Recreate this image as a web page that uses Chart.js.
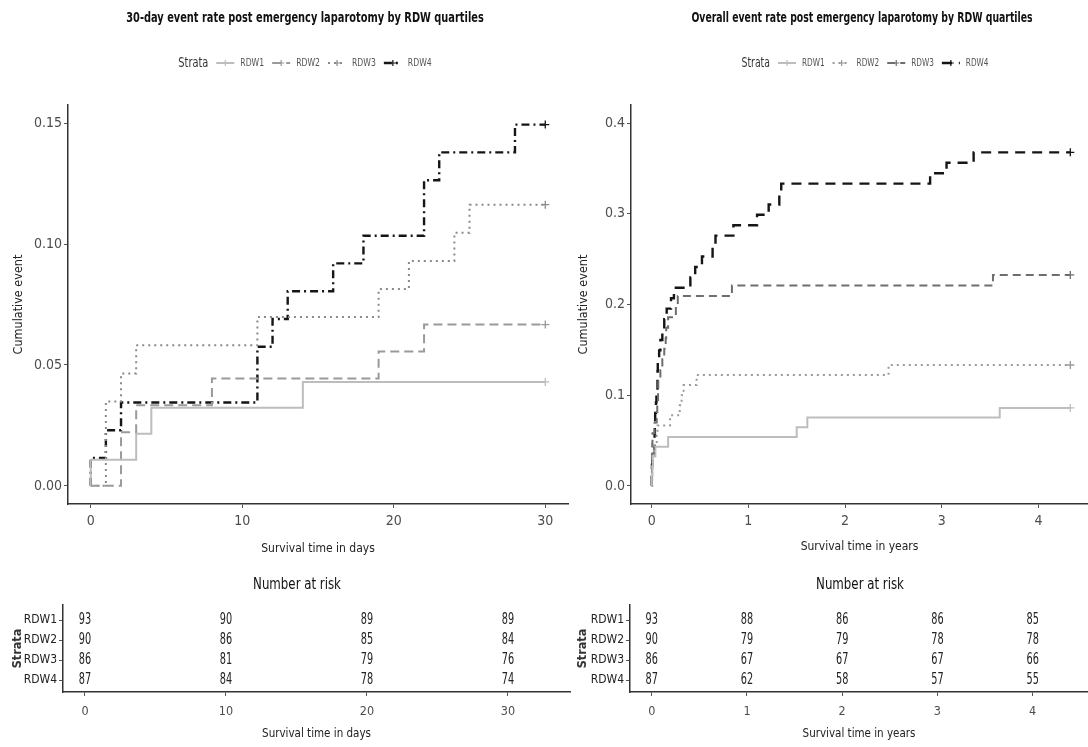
<!DOCTYPE html>
<html><head><meta charset="utf-8">
<script src="https://cdn.jsdelivr.net/npm/chart.js@4/dist/chart.umd.min.js"></script>
<style>
html,body{margin:0;padding:0;background:#fff;}
body{width:1088px;height:747px;overflow:hidden;position:relative;}
canvas{position:absolute;}
</style></head><body>
<canvas id="mainLeft" width="575" height="560" style="left:0px;top:0px"></canvas>
<canvas id="mainRight" width="540" height="560" style="left:548px;top:0px"></canvas>
<canvas id="riskLeft" width="575" height="187" style="left:0px;top:560px"></canvas>
<canvas id="riskRight" width="528" height="187" style="left:560px;top:560px"></canvas>
<script>
const FONT = "'Liberation Sans Narrow','Arial Narrow','DejaVu Sans Condensed','Liberation Sans',sans-serif";

// ---------- labels ----------
const strata = ['RDW1', 'RDW2', 'RDW3', 'RDW4'];
const leftTitle = '30-day event rate post emergency laparotomy by RDW quartiles';
const rightTitle = 'Overall event rate post emergency laparotomy by RDW quartiles';
const leftXTitle = 'Survival time in days';
const rightXTitle = 'Survival time in years';
const yTitle = 'Cumulative event';
const riskHeader = 'Number at risk';

// ---------- tick labels ----------
const leftXTicks = [0, 10, 20, 30];
const leftXTickLabels = ['0', '10', '20', '30'];
const leftYTicks = [0, 0.05, 0.10, 0.15];
const leftYTickLabels = ['0.00', '0.05', '0.10', '0.15'];
const rightXTicks = [0, 1, 2, 3, 4];
const rightXTickLabels = ['0', '1', '2', '3', '4'];
const rightYTicks = [0, 0.1, 0.2, 0.3, 0.4];
const rightYTickLabels = ['0.0', '0.1', '0.2', '0.3', '0.4'];

// ---------- 30-day cumulative event (time in days) ----------
const rdw1Days = [0, 0, 3, 4, 14, 30];
const rdw1Cum30 = [0, 0.0108, 0.0215, 0.0323, 0.0430, 0.0430];
const rdw2Days = [0, 2, 3, 8, 19, 22, 30];
const rdw2Cum30 = [0, 0.0222, 0.0333, 0.0444, 0.0556, 0.0667, 0.0667];
const rdw3Days = [0, 1, 2, 3, 11, 19, 21, 24, 25, 30];
const rdw3Cum30 = [0, 0.0349, 0.0465, 0.0581, 0.0698, 0.0814, 0.0930, 0.1047, 0.1163, 0.1163];
const rdw4Days = [0, 0, 1, 2, 11, 12, 13, 16, 18, 22, 23, 28, 30];
const rdw4Cum30 = [0, 0.0115, 0.0230, 0.0345, 0.0575, 0.0690, 0.0805, 0.0920, 0.1034, 0.1264, 0.1379, 0.1494, 0.1494];

// ---------- overall cumulative event (time in years) ----------
const rdw1Years = [0, 0, 0.008, 0.011, 0.038, 0.17, 1.5, 1.61, 3.6, 4.33];
const rdw1Cum = [0, 0.0108, 0.0215, 0.0323, 0.0430, 0.0538, 0.0645, 0.0753, 0.0860, 0.0860];
const rdw2Years = [0, 0.0055, 0.0082, 0.022, 0.052, 0.060, 0.19, 0.29, 0.31, 0.33, 0.465, 2.45, 4.33];
const rdw2Cum = [0, 0.0222, 0.0333, 0.0444, 0.0556, 0.0667, 0.0778, 0.0889, 0.1000, 0.1111, 0.1222, 0.1333, 0.1333];
const rdw3Years = [0, 0.0027, 0.0055, 0.0082, 0.030, 0.052, 0.0575, 0.0657, 0.068, 0.09, 0.11, 0.13, 0.145, 0.15, 0.17, 0.25, 0.27, 0.83, 3.53, 4.33];
const rdw3Cum = [0, 0.0349, 0.0465, 0.0581, 0.0698, 0.0814, 0.0930, 0.1047, 0.1163, 0.1279, 0.1395, 0.1512, 0.1628, 0.1744, 0.1860, 0.1977, 0.2093, 0.2209, 0.2326, 0.2326];
const rdw4Years = [0, 0, 0.0027, 0.0055, 0.030, 0.033, 0.036, 0.044, 0.049, 0.060, 0.063, 0.077, 0.09, 0.11, 0.13, 0.155, 0.2, 0.23, 0.40, 0.45, 0.52, 0.63, 0.66, 0.845, 1.09, 1.21, 1.32, 1.34, 2.88, 3.05, 3.33, 4.33];
const rdw4Cum = [0, 0.0115, 0.0230, 0.0345, 0.0575, 0.0690, 0.0805, 0.0920, 0.1034, 0.1264, 0.1379, 0.1494, 0.1609, 0.1724, 0.1839, 0.1954, 0.2069, 0.2184, 0.2299, 0.2414, 0.2529, 0.2644, 0.2759, 0.2874, 0.2989, 0.3103, 0.3218, 0.3333, 0.3448, 0.3563, 0.3678, 0.3678];

// ---------- numbers at risk ----------
const riskDays = [0, 10, 20, 30];
const risk30Rdw1 = [93, 90, 89, 89];
const risk30Rdw2 = [90, 86, 85, 84];
const risk30Rdw3 = [86, 81, 79, 76];
const risk30Rdw4 = [87, 84, 78, 74];
const riskYears = [0, 1, 2, 3, 4];
const riskRdw1 = [93, 88, 86, 86, 85];
const riskRdw2 = [90, 79, 79, 78, 78];
const riskRdw3 = [86, 67, 67, 67, 66];
const riskRdw4 = [87, 62, 58, 57, 55];

Chart.defaults.font.family = FONT;
Chart.defaults.animation = false;

function pts(xs, ys) { return xs.map((x, i) => ({ x: x, y: ys[i] })); }

// draw text squeezed horizontally (the original figure uses a narrow face)
function narrowText(ctx, text, x, y, squeeze) {
  ctx.save();
  ctx.translate(x, y);
  ctx.scale(squeeze, 1);
  ctx.fillText(text, 0, 0);
  ctx.restore();
}

const headerPlugin = {
  id: 'kmHeader',
  afterDraw(chart, args, o) {
    if (!o || !o.title) return;
    const ctx = chart.ctx;
    const f = o.squeeze;
    ctx.save();
    ctx.textBaseline = 'middle';
    ctx.textAlign = 'center';
    ctx.fillStyle = '#111';
    ctx.font = 'bold ' + o.titleSize + 'px ' + FONT;
    narrowText(ctx, o.title, o.cx, o.titleY, f);
    const sample = 18, gapS = 6, gapT = 8;
    ctx.font = o.strataSize + 'px ' + FONT;
    const wS = ctx.measureText('Strata').width * f;
    ctx.font = o.labelSize + 'px ' + FONT;
    const ds = chart.data.datasets;
    const widths = ds.map(d => ctx.measureText(d.label).width * f);
    const total = wS + ds.length * (gapT + sample + gapS) + widths.reduce((a, b) => a + b, 0);
    let x = o.legendCx - total / 2;
    const y = o.legendY;
    ctx.textAlign = 'left';
    ctx.fillStyle = '#333';
    ctx.font = o.strataSize + 'px ' + FONT;
    narrowText(ctx, 'Strata', x, y, f);
    x += wS;
    ds.forEach((d, i) => {
      x += gapT;
      ctx.save();
      ctx.strokeStyle = d.borderColor;
      ctx.lineWidth = d.borderWidth;
      ctx.setLineDash(d.borderDash || []);
      ctx.beginPath(); ctx.moveTo(x, y); ctx.lineTo(x + sample, y); ctx.stroke();
      ctx.setLineDash([]);
      ctx.lineWidth = 1.2;
      const cx = x + sample / 2;
      ctx.beginPath(); ctx.moveTo(cx - 3, y); ctx.lineTo(cx + 3, y); ctx.moveTo(cx, y - 3); ctx.lineTo(cx, y + 3); ctx.stroke();
      ctx.restore();
      x += sample + gapS;
      ctx.font = o.labelSize + 'px ' + FONT;
      ctx.fillStyle = '#555';
      narrowText(ctx, d.label, x, y, f);
      x += widths[i];
    });
    ctx.restore();
  }
};

const riskPlugin = {
  id: 'riskText',
  afterDatasetsDraw(chart, args, o) {
    if (!o || !o.header) return;
    const ctx = chart.ctx;
    ctx.save();
    ctx.textAlign = 'center';
    ctx.textBaseline = 'middle';
    ctx.fillStyle = '#222';
    ctx.font = o.size + 'px ' + FONT;
    chart.data.datasets.forEach((d, di) => {
      const meta = chart.getDatasetMeta(di);
      meta.data.forEach((el, i) => narrowText(ctx, String(d.counts[i]), el.x, el.y, o.squeeze));
    });
    ctx.font = o.headerSize + 'px ' + FONT;
    ctx.fillStyle = '#111';
    narrowText(ctx, o.header, o.headerX, o.headerY, o.headerSqueeze);
    ctx.restore();
  }
};

const axisBorder = { display: true, color: '#333', width: 1.5 };
const axisGrid = { display: true, drawOnChartArea: false, drawTicks: true, tickLength: 4, color: '#555', lineWidth: 1 };

function kmDataset(label, xs, ys, color, dash, width) {
  return {
    label: label,
    data: pts(xs, ys),
    stepped: 'before',
    borderColor: color,
    borderWidth: width,
    borderDash: dash,
    borderCapStyle: 'butt',
    fill: false,
    tension: 0,
    pointStyle: 'cross',
    pointRadius: c => (c.dataIndex === c.dataset.data.length - 1 ? 4 : 0),
    pointBorderColor: color,
    pointBorderWidth: 1.3,
    pointBackgroundColor: color
  };
}

function mainChart(id, datasets, cfg) {
  return new Chart(document.getElementById(id), {
    type: 'line',
    data: { datasets: datasets },
    plugins: [headerPlugin],
    options: {
      responsive: false,
      devicePixelRatio: 1,
      animation: false,
      events: [],
      layout: { autoPadding: false, padding: { left: 0, right: cfg.padRight, top: 105, bottom: 0 } },
      plugins: {
        legend: { display: false },
        tooltip: { enabled: false },
        kmHeader: cfg.header
      },
      scales: {
        x: {
          type: 'linear', min: cfg.xMin, max: cfg.xMax,
          border: axisBorder, grid: axisGrid,
          afterBuildTicks: s => { s.ticks = cfg.xTicks.map(v => ({ value: v })); },
          afterFit: s => { s.height = 56; },
          ticks: { autoSkip: false, maxRotation: 0, padding: 5, color: '#4d4d4d', font: { size: 14 },
                   callback: (v, i) => cfg.xTickLabels[i] },
          title: { display: true, text: cfg.xTitle, color: '#222', font: { size: 12 }, padding: { top: 0, bottom: cfg.xTitlePad } }
        },
        y: {
          type: 'linear', min: cfg.yMin, max: cfg.yMax,
          border: axisBorder, grid: axisGrid,
          afterBuildTicks: s => { s.ticks = cfg.yTicks.map(v => ({ value: v })); },
          afterFit: s => { s.width = cfg.yWidth; },
          ticks: { autoSkip: false, padding: 2, color: '#4d4d4d', font: { size: 14 },
                   callback: (v, i) => cfg.yTickLabels[i] },
          title: { display: true, text: yTitle, color: '#222', font: { size: 12.5 }, padding: { top: cfg.yTitlePad, bottom: 0 } }
        }
      }
    }
  });
}

function riskChart(id, times, counts, cfg) {
  const datasets = strata.map((s, i) => ({
    label: s,
    data: times.map(t => ({ x: t, y: i + 1 })),
    counts: counts[i],
    pointRadius: 0,
    showLine: false
  }));
  return new Chart(document.getElementById(id), {
    type: 'scatter',
    data: { datasets: datasets },
    plugins: [riskPlugin],
    options: {
      responsive: false,
      devicePixelRatio: 1,
      animation: false,
      events: [],
      layout: { autoPadding: false, padding: { left: 0, right: cfg.padRight, top: 45, bottom: 0 } },
      plugins: {
        legend: { display: false },
        tooltip: { enabled: false },
        riskText: { header: riskHeader, headerX: cfg.headerX, headerY: 25, headerSize: 16, headerSqueeze: 0.82, size: 15, squeeze: 0.72 }
      },
      scales: {
        x: {
          type: 'linear', min: cfg.xMin, max: cfg.xMax,
          border: axisBorder, grid: axisGrid,
          afterBuildTicks: s => { s.ticks = cfg.xTicks.map(v => ({ value: v })); },
          afterFit: s => { s.height = 55; },
          ticks: { autoSkip: false, maxRotation: 0, padding: 8, color: '#4d4d4d', font: { size: 12.5 },
                   callback: (v, i) => cfg.xTickLabels[i] },
          title: { display: true, text: cfg.xTitle, color: '#222', font: { size: 11.5 }, padding: { top: 0, bottom: 6 } }
        },
        y: {
          type: 'linear', min: 0.25, max: 4.6, reverse: true,
          border: axisBorder, grid: axisGrid,
          afterBuildTicks: s => { s.ticks = strata.map((t, i) => ({ value: i + 1 })); },
          afterFit: s => { s.width = cfg.yWidth; },
          ticks: { autoSkip: false, padding: 2, color: '#222', font: { size: 12 },
                   callback: (v, i) => strata[i] },
          title: { display: true, text: 'Strata', color: '#333', font: { size: 12.5, weight: 'bold' }, padding: { top: cfg.yTitlePad, bottom: 0 } }
        }
      }
    }
  });
}

mainChart('mainLeft', [
  kmDataset(strata[0], rdw1Days, rdw1Cum30, '#bdbdbd', [], 2),
  kmDataset(strata[1], rdw2Days, rdw2Cum30, '#9a9a9a', [9, 5], 2),
  kmDataset(strata[2], rdw3Days, rdw3Cum30, '#8a8a8a', [2, 4], 2),
  kmDataset(strata[3], rdw4Days, rdw4Cum30, '#151515', [8, 4, 2, 4], 2.4)
], {
  padRight: 7, xMin: -1.5, xMax: 31.5, yMin: -0.0075, yMax: 0.1575,
  xTicks: leftXTicks, xTickLabels: leftXTickLabels, yTicks: leftYTicks, yTickLabels: leftYTickLabels,
  xTitle: leftXTitle, xTitlePad: 4, yWidth: 68, yTitlePad: 11,
  header: { title: leftTitle, cx: 305, titleY: 18, titleSize: 14, squeeze: 0.78, legendCx: 305, legendY: 63, strataSize: 14, labelSize: 11 }
});

mainChart('mainRight', [
  kmDataset(strata[0], rdw1Years, rdw1Cum, '#bdbdbd', [], 2),
  kmDataset(strata[1], rdw2Years, rdw2Cum, '#9a9a9a', [2, 4], 2),
  kmDataset(strata[2], rdw3Years, rdw3Cum, '#6e6e6e', [8, 5], 2),
  kmDataset(strata[3], rdw4Years, rdw4Cum, '#151515', [10, 7], 2.4)
], {
  padRight: 0, xMin: -0.214, xMax: 4.513, yMin: -0.02, yMax: 0.42,
  xTicks: rightXTicks, xTickLabels: rightXTickLabels, yTicks: rightYTicks, yTickLabels: rightYTickLabels,
  xTitle: rightXTitle, xTitlePad: 6, yWidth: 83, yTitlePad: 28,
  header: { title: rightTitle, cx: 314, titleY: 18, titleSize: 14, squeeze: 0.74, legendCx: 317, legendY: 63, strataSize: 14, labelSize: 11 }
});

riskChart('riskLeft', riskDays, [risk30Rdw1, risk30Rdw2, risk30Rdw3, risk30Rdw4], {
  padRight: 5, xMin: -1.56, xMax: 34.4, xTicks: leftXTicks, xTickLabels: leftXTickLabels,
  xTitle: leftXTitle, yWidth: 63, yTitlePad: 10, headerX: 297
});

riskChart('riskRight', riskYears, [riskRdw1, riskRdw2, riskRdw3, riskRdw4], {
  padRight: 0, xMin: -0.228, xMax: 4.581, xTicks: rightXTicks, xTickLabels: rightXTickLabels,
  xTitle: rightXTitle, yWidth: 70, yTitlePad: 15, headerX: 300
});
</script>
</body></html>
